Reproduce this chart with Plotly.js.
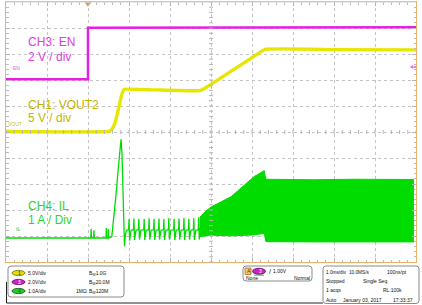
<!DOCTYPE html>
<html><head><meta charset="utf-8">
<script src="https://cdn.plot.ly/plotly-3.0.1.min.js"></script>
<style>html,body{margin:0;padding:0;background:#fff;overflow:hidden}#c{width:422px;height:305px}</style>
</head><body><div id="c"></div>
<script>
// ---- data (time in ms, 1 ms/div) ----
const trigT = 2.0;          // trigger position (ms)
const trigLevel = 1.0;      // trigger level on CH3 (V)

// CH3: EN (V)
const enT = [0, 2.00, 2.00, 5.0, 10.0];
const enV = [0.05, 0.05, 4.02, 4.05, 4.05];

// CH1: VOUT2 (V)
const voutT = [0, 2.50, 2.58, 2.66, 2.74, 2.82, 2.88, 3.60, 4.73, 4.85, 6.00, 6.32, 8.00, 10.0];
const voutV = [0.1, 0.1, 0.5, 1.8, 4.3, 7.1, 8.2, 8.1, 7.95, 8.4, 14.3, 15.9, 15.85, 15.8];

// CH4: IL (A) - start-up pulses
const ilT = [0, 2.07, 2.075, 2.085, 2.14, 2.145, 2.155, 2.44, 2.445, 2.455, 2.49, 2.495, 2.505,
  2.58, 2.62, 2.68, 2.74, 2.79, 2.805, 2.83, 2.86, 2.89, 2.91, 2.94,
  2.99, 3.00, 3.015, 3.05, 3.11, 3.12, 3.135, 3.17, 3.23, 3.24, 3.255, 3.29,
  3.36, 3.37, 3.385, 3.42, 3.48, 3.49, 3.505, 3.54, 3.60, 3.61, 3.625, 3.66,
  3.72, 3.73, 3.745, 3.78, 3.84, 3.85, 3.865, 3.90, 3.96, 3.97, 3.985, 4.02,
  4.09, 4.10, 4.115, 4.15, 4.21, 4.22, 4.235, 4.27, 4.33, 4.34, 4.355, 4.39,
  4.45, 4.46, 4.475, 4.51, 4.57, 4.58, 4.595, 4.63, 4.69, 4.70, 4.715, 4.73];
const ilV = [0, 0, 0.35, 0, 0, 0.30, 0, 0, 0.38, 0, 0, 0.35, 0,
  0.05, 0.6, 1.6, 2.7, 3.6, 3.8, 3.2, 1.5, -0.32, 0.1, 0.30,
  0.32, 0.72, -0.10, 0.30, 0.32, 0.75, -0.08, 0.30, 0.32, 0.74, -0.06, 0.30,
  0.32, 0.73, -0.08, 0.30, 0.32, 0.76, -0.06, 0.30, 0.32, 0.74, -0.08, 0.30,
  0.32, 0.75, -0.06, 0.30, 0.32, 0.73, -0.08, 0.30, 0.32, 0.76, -0.06, 0.30,
  0.32, 0.74, -0.08, 0.30, 0.32, 0.75, -0.06, 0.30, 0.32, 0.77, -0.08, 0.30,
  0.32, 0.74, -0.06, 0.30, 0.32, 0.76, -0.08, 0.30, 0.32, 0.80, -0.06, 0.40];

// CH4: IL (A) - switching envelope
const envT   = [4.73, 4.85, 5.00, 5.49, 6.05, 6.30, 6.32, 6.34, 7.50, 8.50, 9.95];
const envTop = [0.80, 1.00, 1.19, 1.59, 2.36, 2.59, 2.40, 2.26, 2.24, 2.26, 2.25];
const envBot = [0.05, 0.08, 0.11, 0.08, 0.12, 0.18, 0.00, -0.14, -0.15, -0.14, -0.15];

// ---- geometry helpers (pixel -> paper) ----
const PL = 6, PR = 416, PT = 2, PB = 262;
const px = x => (x - PL) / (PR - PL);
const py = y => (PB - y) / (PB - PT);

const MAG = '#e61ee6', YEL = '#e6e600', GRN = '#00dc00';
const FONT = 'Liberation Sans, Arial, sans-serif';

const traces = [
  {x: enT, y: enV, yaxis: 'y2', mode: 'lines', line: {color: MAG, width: 2.5}},
  {x: voutT, y: voutV, yaxis: 'y3', mode: 'lines', line: {color: YEL, width: 3.4, shape: 'spline', smoothing: 0.3}},
  {x: ilT, y: ilV, yaxis: 'y4', mode: 'lines', line: {color: GRN, width: 1.3}},
  {x: envT, y: envBot, yaxis: 'y4', mode: 'lines', line: {color: GRN, width: 1}},
  {x: envT, y: envTop, yaxis: 'y4', mode: 'lines', line: {color: GRN, width: 1}, fill: 'tonexty', fillcolor: GRN},
  // ground markers
  {x: [-0.075], y: [0], yaxis: 'y2', mode: 'markers+text', text: ['3'], textposition: 'middle center',
   textfont: {size: 6, color: '#000', family: FONT}, cliponaxis: false,
   marker: {size: 8, color: MAG, line: {color: '#900090', width: 1}}},
  {x: [-0.075], y: [0], yaxis: 'y3', mode: 'markers+text', text: ['1'], textposition: 'middle center',
   textfont: {size: 6, color: '#000', family: FONT}, cliponaxis: false,
   marker: {size: 8, color: YEL, line: {color: '#e0a000', width: 1}}},
  {x: [-0.075], y: [0], yaxis: 'y4', mode: 'markers+text', text: ['4'], textposition: 'middle center',
   textfont: {size: 6, color: '#000', family: FONT}, cliponaxis: false,
   marker: {size: 8, color: GRN, line: {color: '#008800', width: 1}}},
  // trigger position marker
  {x: [trigT], y: [9.93], yaxis: 'y', mode: 'markers', cliponaxis: false,
   marker: {symbol: 'triangle-down', size: 6, color: '#f09a30'}},
  // trigger level marker on CH3
  {x: [9.90, 10.0], y: [trigLevel, trigLevel], yaxis: 'y2', mode: 'lines+markers', cliponaxis: false,
   line: {color: MAG, width: 1.2}, marker: {symbol: 'triangle-left', size: [5, 0], color: MAG}}
];

// ---- shapes ----
const shapes = [];
const tickCol = '#b4b4b4';
for (let k = 0; k <= 50; k++) {
  shapes.push({type: 'line', xref: 'x', yref: 'paper', x0: k * 0.2, x1: k * 0.2,
    y0: 0.5 - 2 / 260, y1: 0.5 + 2 / 260, line: {color: tickCol, width: 1}});
  shapes.push({type: 'line', xref: 'paper', yref: 'paper', x0: 0.5 - 2 / 410, x1: 0.5 + 2 / 410,
    y0: k * 0.02, y1: k * 0.02, line: {color: tickCol, width: 1}});
}
shapes.push({type: 'line', xref: 'paper', yref: 'paper', x0: 0, x1: 1, y0: 1, y1: 1, line: {color: '#d4d4d4', width: 1}});

function rr(x0, y0, x1, y1, r, col) {
  const X0 = px(x0), X1 = px(x1), Y0 = py(y0), Y1 = py(y1);
  const rx = r / 410, ry = r / 260;
  const p = `M${X0 + rx},${Y0} L${X1 - rx},${Y0} Q${X1},${Y0} ${X1},${Y0 - ry} L${X1},${Y1 + ry} Q${X1},${Y1} ${X1 - rx},${Y1} L${X0 + rx},${Y1} Q${X0},${Y1} ${X0},${Y1 + ry} L${X0},${Y0 - ry} Q${X0},${Y0} ${X0 + rx},${Y0} Z`;
  return {type: 'path', xref: 'paper', yref: 'paper', path: p, line: {color: col || '#8a8a8a', width: 1}};
}
function ell(x0, y0, x1, y1, fill, edge) {
  return {type: 'circle', xref: 'paper', yref: 'paper', x0: px(x0), x1: px(x1), y0: py(y1), y1: py(y0),
    fillcolor: fill, line: {color: edge, width: 0.8}};
}
function seg(x0, y0, x1, y1, col, w) {
  return {type: 'line', xref: 'paper', yref: 'paper', x0: px(x0), x1: px(x1), y0: py(y0), y1: py(y1),
    line: {color: col, width: w || 1}};
}
shapes.push(seg(6.5, 282, 6.5, 303, '#222', 1));
shapes.push(seg(6.5, 303, 323, 303, '#222', 1));
shapes.push(rr(8, 266, 124, 297, 3));
shapes.push(rr(243, 266, 312, 281, 3));
shapes.push(rr(323, 266, 419, 303.5, 3));
shapes.push(ell(12, 270.4, 25, 275.6, '#dede00', '#707000'));
shapes.push(ell(12, 279.4, 25, 284.6, '#d020d0', '#600060'));
shapes.push(ell(12, 288.4, 25, 293.6, '#20d020', '#005000'));
shapes.push({type: 'rect', xref: 'paper', yref: 'paper', x0: px(245), x1: px(251), y0: py(274.5), y1: py(268),
  fillcolor: '#f3c878', line: {color: '#b07020', width: 0.8}});
shapes.push(ell(252.5, 268.3, 265.5, 274.3, '#d020d0', '#600060'));
shapes.push(seg(254, 275.2, 264, 275.2, '#20d020', 1));

// ---- annotations ----
const anns = [];
function ann(text, x, y, size, color) {
  anns.push({xref: 'paper', yref: 'paper', x: px(x), y: py(y), xanchor: 'left', yanchor: 'middle',
    showarrow: false, text: text, borderpad: 0, font: {family: FONT, size: size, color: color}});
}
ann('CH3: EN', 26.5, 41.5, 12, '#e03ce0');
ann('2 V / div', 26.5, 57, 12, '#e03ce0');
ann('CH1: VOUT2', 26.5, 105, 12, '#c4b400');
ann('5 V / div', 26.5, 118, 12, '#c4b400');
ann('CH4: IL', 26.5, 206, 12, '#2ed42e');
ann('1 A / Div', 26.5, 220, 12, '#2ed42e');
ann('EN', 11.5, 68, 5, '#e060e0');
ann('VOUT', 7, 123.5, 5, '#d0c000');
ann('IL', 14.5, 229, 5, '#20c020');

const S = 5, TC = '#111';
ann('1', 17.2, 273, 5, '#333');
ann('3', 17.2, 282, 5, '#fff');
ann('4', 17.2, 291, 5, '#333');
ann('5.0V/div', 27, 273, S, TC);
ann('2.0V/div', 27, 282, S, TC);
ann('1.0A/div', 27, 291, S, TC);
ann('B<sub>W</sub>1.0G', 87.5, 273, S, TC);
ann('B<sub>W</sub>20.0M', 87.5, 282, S, TC);
ann('1MΩ', 74.5, 291, S, TC);
ann('B<sub>W</sub>120M', 87.5, 291, S, TC);

ann("A'", 246, 271.3, 5, '#333');
ann('3', 258, 271.3, 5, '#fff');
ann('/', 267.5, 271.3, 7, TC);
ann('1.00V', 271.5, 271.3, S, TC);
ann('None', 245.5, 277.8, S, TC);
ann('Normal', 293, 277.8, S, TC);

ann('1.0ms/div', 325, 272, 4.7, TC);
ann('10.0MS/s', 347.5, 272, 4.7, TC);
ann('100ns/pt', 386, 272, S, TC);
ann('Stopped', 325, 281.3, S, TC);
ann('Single Seq', 361.5, 281.3, S, TC);
ann('1 acqs', 325, 290.3, S, TC);
ann('RL:100k', 381.5, 290.3, S, TC);
ann('Auto', 325, 299.6, S, TC);
ann('January 03, 2017', 341.5, 299.6, S, TC);
ann('17:33:37', 391.5, 299.6, S, TC);

const gridAx = {
  showgrid: true, gridcolor: '#c4c4c4', griddash: 'dot', gridwidth: 1,
  zeroline: false, showticklabels: false, ticks: 'inside', ticklen: 4, tickcolor: '#b4b4b4',
  showline: true, linecolor: '#e8b46c', linewidth: 1, mirror: 'ticks', fixedrange: true,
  minor: {dtick: 0.2, ticks: 'inside', ticklen: 2.5, tickcolor: '#bcbcbc', showgrid: false}
};

const layout = {
  width: 422, height: 305,
  margin: {l: PL, r: 422 - PR, t: PT, b: 305 - PB, pad: 0},
  paper_bgcolor: '#fff', plot_bgcolor: '#fff',
  showlegend: false, hovermode: false,
  xaxis: Object.assign({}, gridAx, {range: [0, 10], dtick: 1, tick0: 0}),
  yaxis: Object.assign({}, gridAx, {range: [0, 10], dtick: 1, tick0: 0}),
  yaxis2: {overlaying: 'y', range: [-14, 6], visible: false, fixedrange: true},
  yaxis3: {overlaying: 'y', range: [-25, 25], visible: false, fixedrange: true},
  yaxis4: {overlaying: 'y', range: [-24 / 26, 236 / 26], visible: false, fixedrange: true},
  shapes: shapes,
  annotations: anns
};

Plotly.newPlot('c', traces, layout, {staticPlot: true, displayModeBar: false});
</script>
</body></html>
